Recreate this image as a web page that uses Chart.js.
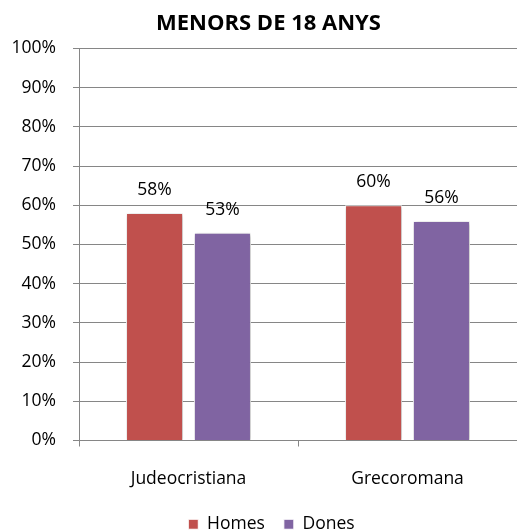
<!DOCTYPE html>
<html lang="ca">
<head>
    <meta charset="UTF-8">
    <title>Menors de 18 anys</title>
    <script src="https://cdn.jsdelivr.net/npm/chart.js"></script>
    <style>
        body { margin: 0; padding: 0; background: #fff; }
        #wrap { width: 517px; height: 531px; position: relative; }
    </style>
</head>
<body>
    <div id="wrap"><canvas id="chart"></canvas></div>
    <script>
        // Data
        const categories = ['Judeocristiana', 'Grecoromana'];
        const homes = [58, 60];
        const dones = [53, 56];
        const seriesNames = ['Homes', 'Dones'];

        const FONT = '"Open Sans", Lato, sans-serif';
        const SIZE = 17.5;

        // value labels above each bar
        const valueLabels = {
            id: 'valueLabels',
            afterDatasetsDraw(chart) {
                const ctx = chart.ctx;
                ctx.save();
                ctx.font = SIZE + 'px ' + FONT;
                ctx.fillStyle = '#000';
                ctx.textAlign = 'center';
                ctx.textBaseline = 'middle';
                chart.data.datasets.forEach((ds, i) => {
                    chart.getDatasetMeta(i).data.forEach((bar, j) => {
                        ctx.fillText(ds.data[j] + '%', bar.x, bar.y - 23);
                    });
                });
                ctx.restore();
            }
        };

        // soft shadow behind the bars
        const barShadow = {
            id: 'barShadow',
            beforeDatasetsDraw(chart) {
                const ctx = chart.ctx;
                ctx.save();
                ctx.shadowColor = 'rgba(0,0,0,0.3)';
                ctx.shadowBlur = 4;
                ctx.shadowOffsetX = 1;
                ctx.shadowOffsetY = 1;
            },
            afterDatasetsDraw(chart) {
                chart.ctx.restore();
            }
        };

        // title and legend sit a little right of the canvas centre in the original
        const nudgeBoxes = {
            id: 'nudgeBoxes',
            afterLayout(chart) {
                if (chart.titleBlock) chart.titleBlock.left += 20;
                if (chart.legend) chart.legend.left += 26;
            }
        };

        new Chart(document.getElementById('chart'), {
            type: 'bar',
            data: {
                labels: categories,
                datasets: [
                    { label: seriesNames[0], data: homes, backgroundColor: '#C0504D', borderColor: '#fff', borderWidth: 1 },
                    { label: seriesNames[1], data: dones, backgroundColor: '#8064A2', borderColor: '#fff', borderWidth: 1 }
                ]
            },
            options: {
                responsive: true,
                maintainAspectRatio: false,
                animation: false,
                categoryPercentage: 0.62,
                barPercentage: 0.84,
                layout: { padding: { top: 2, right: 0, left: 0, bottom: -12 } },
                plugins: {
                    title: {
                        display: true,
                        text: 'MENORS DE 18 ANYS',
                        color: '#000',
                        font: { family: FONT, size: 22, weight: 'bold', lineHeight: 1.2 },
                        padding: { top: 9, bottom: 11 }
                    },
                    legend: {
                        position: 'bottom',
                        labels: {
                            color: '#000',
                            font: { family: FONT, size: SIZE },
                            boxWidth: 10,
                            boxHeight: 10,
                            padding: 19
                        }
                    },
                    tooltip: { enabled: false }
                },
                scales: {
                    x: {
                        grid: { drawOnChartArea: false, drawTicks: true, tickLength: 6, color: '#868686', offset: true },
                        border: { color: '#868686', width: 1 },
                        ticks: { color: '#000', font: { family: FONT, size: SIZE }, padding: 22 },
                        afterFit(scale) { scale.height = 56; }
                    },
                    y: {
                        min: 0,
                        max: 100,
                        ticks: {
                            stepSize: 10,
                            color: '#000',
                            font: { family: FONT, size: SIZE },
                            padding: 17,
                            callback: v => v + '%'
                        },
                        grid: { color: '#868686', tickLength: 6 },
                        border: { color: '#868686', width: 1 },
                        afterFit(scale) { scale.width = 79; }
                    }
                }
            },
            plugins: [barShadow, valueLabels, nudgeBoxes]
        });
    </script>
</body>
</html>
